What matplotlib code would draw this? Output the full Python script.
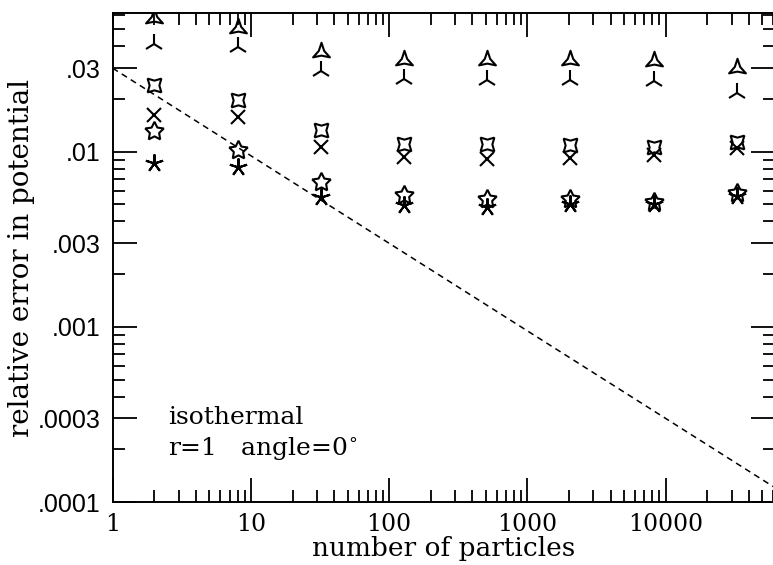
import numpy as np
import matplotlib
matplotlib.use('Agg')
import matplotlib.pyplot as plt
from matplotlib.path import Path
from matplotlib.ticker import FixedLocator, NullFormatter

# number of particles for each test run
n_particles = [2, 8, 32, 128, 512, 2048, 8192, 32768]

# relative error in potential, one list per marker series (top to bottom)
err_tri = [0.058, 0.0506, 0.0372, 0.0333, 0.0333, 0.0333, 0.033, 0.030]
err_triup = [0.0415, 0.0397, 0.029, 0.026, 0.0256, 0.0256, 0.0253, 0.0217]
err_4star = [0.024, 0.0197, 0.01326, 0.0111, 0.01105, 0.0109, 0.01065, 0.0114]
err_cross = [0.0162, 0.0158, 0.01065, 0.00933, 0.00915, 0.0092, 0.00954, 0.01044]
err_5star = [0.01316, 0.0102, 0.00672, 0.00564, 0.0054, 0.00534, 0.00516, 0.00582]
err_ast = [0.00863, 0.00818, 0.00553, 0.00496, 0.00484, 0.00506, 0.00501, 0.00557]

# N^-1/2 reference line end points
ref_n = [1, 100000]
ref_err = [0.03, 0.0000949]

ytick_major = [0.0001, 0.0003, 0.001, 0.003, 0.01, 0.03]
ytick_labels = ['.0001', '.0003', '.001', '.003', '.01', '.03']
xtick_major = [1, 10, 100, 1000, 10000]
xtick_labels = ['1', '10', '100', '1000', '10000']

serif = 'DejaVu Serif'
sans = 'Liberation Sans'

# three pointed star with concave sides (the "A"-like symbol)
ang = np.pi / 2 + np.arange(6) * np.pi / 3
rad = np.array([1.0, 0.32] * 3)
tri_verts = np.column_stack([rad * np.cos(ang), rad * np.sin(ang)])
tri_verts = np.vstack([tri_verts, tri_verts[:1]])
concave_tri = Path(tri_verts, closed=True)

fig = plt.figure(figsize=(7.73, 5.65), dpi=100)
ax = fig.add_axes([0.1458, 0.1115, 0.857, 0.8655])

ax.set_xscale('log')
ax.set_yscale('log')
ax.set_xlim(1, 62000)
ax.set_ylim(0.0001, 0.062)

ax.plot(ref_n, ref_err, color='black', lw=1.1, ls=(0, (4, 3)))

mk = dict(ls='none', color='black', mfc='none', mew=1.5)
ax.plot(n_particles, err_tri, marker=concave_tri, ms=14, **mk)
ax.plot(n_particles, err_triup, marker='2', ms=14, **mk)
ax.plot(n_particles, err_4star, marker=(4, 1, 45), ms=14, **mk)
ax.plot(n_particles, err_cross, marker='x', ms=10, **mk)
ax.plot(n_particles, err_5star, marker=(5, 1, 0), ms=14, **mk)
ax.plot(n_particles, err_ast, marker=(5, 2, 0), ms=13, **mk)

# ticks on all four sides, pointing inward
ax.yaxis.set_major_locator(FixedLocator(ytick_major))
ax.yaxis.set_minor_locator(FixedLocator(
    [m * 10.0**e for e in range(-4, -1) for m in (2, 4, 5, 6, 7, 8, 9)]))
ax.set_yticklabels(ytick_labels, fontfamily=sans, fontsize=18)
ax.yaxis.set_minor_formatter(NullFormatter())

ax.xaxis.set_major_locator(FixedLocator(xtick_major))
ax.xaxis.set_minor_locator(FixedLocator(
    [m * 10.0**e for e in range(0, 5) for m in range(2, 10)]))
ax.set_xticklabels(xtick_labels, fontfamily=serif, fontsize=17)
ax.xaxis.set_minor_formatter(NullFormatter())

ax.tick_params(which='both', direction='in', top=True, right=True, width=1.3)
ax.tick_params(which='major', length=17)
ax.tick_params(which='minor', length=8.5)
ax.tick_params(axis='y', which='major', pad=9)
ax.tick_params(axis='x', which='major', pad=8)

for sp in ax.spines.values():
    sp.set_linewidth(1.4)

ax.set_xlabel('number of particles', fontfamily=serif, fontsize=19, labelpad=0)
ax.set_ylabel('relative error in potential', fontfamily=serif, fontsize=20, labelpad=2)

ax.text(0.084, 0.172, 'isothermal', transform=ax.transAxes,
        fontfamily=serif, fontsize=18, va='center', ha='left')
ax.text(0.084, 0.108, r'r=1   angle=0$^{\circ}$', transform=ax.transAxes,
        fontfamily=serif, fontsize=18, va='center', ha='left')

fig.savefig('out.png', dpi=100)
